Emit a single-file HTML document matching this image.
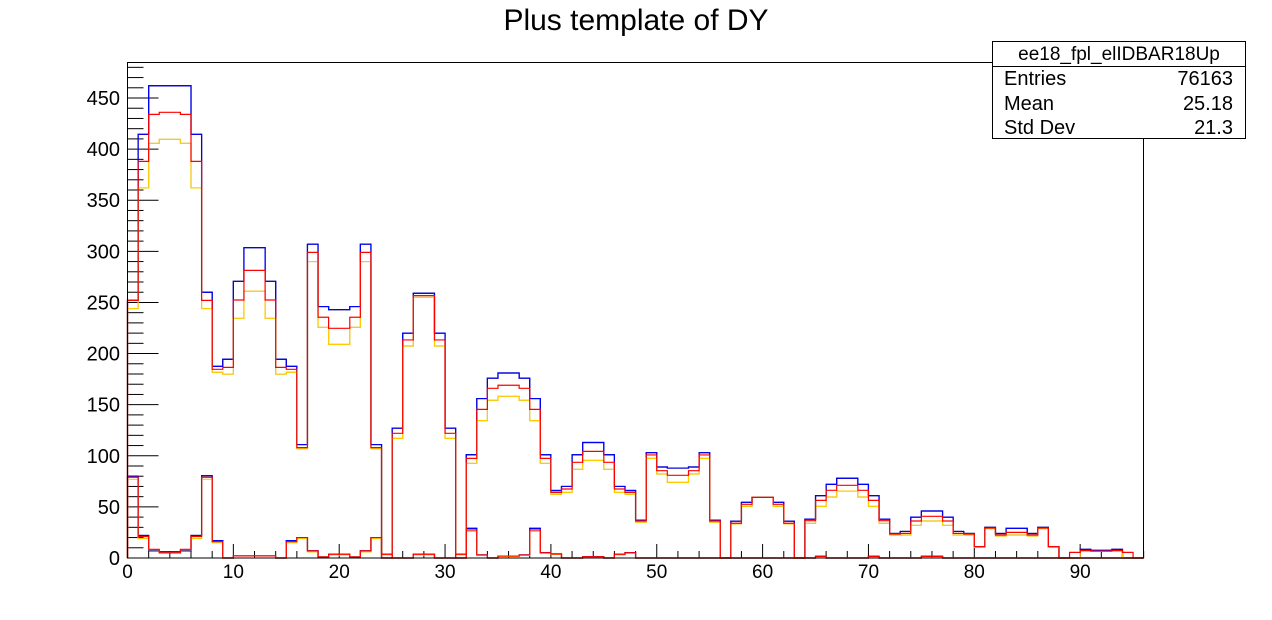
<!DOCTYPE html>
<html><head><meta charset="utf-8"><style>
html,body{margin:0;padding:0;background:#fff;}
svg{display:block;font-family:"Liberation Sans",Arial,sans-serif;}
</style></head><body>
<svg id="c" width="1272" height="620" viewBox="0 0 1272 620">
<text x="636" y="30" text-anchor="middle" font-size="30">Plus template of DY</text>
<g id="axes"></g>
<g id="series"></g>
<rect x="127.5" y="62.5" width="1016" height="495.5" fill="none" stroke="#000" stroke-width="1"/>
<g>
<rect x="992.5" y="41.5" width="253" height="97" fill="#fff" stroke="#000"/>
<line x1="992.5" y1="66.5" x2="1245.5" y2="66.5" stroke="#000"/>
<text x="1119" y="60" text-anchor="middle" font-size="19">ee18_fpl_elIDBAR18Up</text>
<text x="1004" y="85" font-size="20">Entries</text>
<text x="1233" y="85" text-anchor="end" font-size="20">76163</text>
<text x="1004" y="110" font-size="20">Mean</text>
<text x="1233" y="110" text-anchor="end" font-size="20">25.18</text>
<text x="1004" y="134" font-size="20">Std Dev</text>
<text x="1233" y="134" text-anchor="end" font-size="20">21.3</text>
</g>
</svg>
<script>
const xTicks = [0,10,20,30,40,50,60,70,80,90];
const yTicks = [0,50,100,150,200,250,300,350,400,450];
const bigBlue = [252,414.5,462,462,462,462,414.5,260,187.5,194.4,270.7,303.6,303.6,270.7,194.4,187.5,111,307,246,243,243,246,307,111,0,127,220,259,259,220,127,0,101,156,176,181,181,176,156,101,66,70,101,113,113,101,70,66,37,103,89,88,88,89,103,37,0,36,54.5,59.3,59.3,54.5,36,0,38,61,72,78,78,72,61,38,24,26,40,46,46,40,26,24,11,30,24,29,29,24,30,11,0,0,8.5,7.5,7.5,8.5,0,0];
const bigRed = [252,388,434,436,436,434,388,252,184.6,186.5,252.4,281.4,281.4,252.4,186.5,184.6,108,299,235.5,224.7,224.7,235.5,299,108,0,122,213.3,256.7,256.7,213.3,122,0,97.5,145.4,166,169,169,166,145.4,97.5,64.2,67.5,93.6,104.3,104.3,93.6,67.5,64.2,36.2,100.8,85.4,80.9,80.9,85.4,100.8,36.2,0,34,52.5,59.3,59.3,52.5,34,0,36.5,56.4,66.2,71.1,71.1,66.2,56.4,36.5,23.5,24.1,36.2,40.8,40.8,36.2,24.1,23.5,11.1,29.3,22.5,25.1,25.1,22.5,29.3,11.1,0,5.5,7.2,6.8,6.8,7.2,5.5,0];
const bigYellow = [244,362,405.7,409.6,409.6,405.7,362,244,181.7,179.8,234.5,261,261,234.5,179.8,181.7,107,290,225.7,209,209,225.7,290,107,0,117,207.4,255,255,207.4,117,0,92.6,134.4,154.3,158.2,158.2,154.3,134.4,92.6,62.3,64.2,86.7,95.5,95.5,86.7,64.2,62.3,34.9,97.5,82.2,74,74,82.2,97.5,34.9,0,33.3,50.5,59.3,59.3,50.5,33.3,0,33.9,50.5,59.7,65.5,65.5,59.7,50.5,33.9,22.5,22.5,32,36.2,36.2,32,22.5,22.5,10.4,28.7,21.5,22.5,22.5,21.5,28.7,10.4,0,0,7,6.5,6.5,7,0,0];
const smallBlue = [80,22,7,6,6,7,22,80.5,17,0,2,2,2,2,0,17,20,7,1,3.6,3.6,1,7,20,3.6,0,0,3.6,3.6,0,0,3.6,29,3,0,1.9,1.9,3,29,5.2,3.9,0,0,1.3,1.3,0,3.6,5.2,0,0,0,0,0,0,0,0,0,0,0,0,0,0,0,0,0,1.6,0,0,0,0,1.6,0,0,0,0,1.6,1.6,0,0,0,0,0,0,0,0,0,0,0,0,0,0,0,0,0,0,0];
const smallRed = [79,21,8.5,5,5,8.5,21,79,16,0,2,2,2,2,0,16,20,7,1,3.6,3.6,1,7,20,3.6,0,0,3.6,3.6,0,0,3.6,27.4,3,0,1.9,1.9,3,27.4,5.2,3.9,0,0,1.3,1.3,0,3.6,5.2,0,0,0,0,0,0,0,0,0,0,0,0,0,0,0,0,0,1.6,0,0,0,0,1.6,0,0,0,0,1.6,1.6,0,0,0,0,0,0,0,0,0,0,0,0,0,0,0,0,0,0,0];
const smallYellow = [77,19,8,5,5,8,19,77,15,0,2,2,2,2,0,15,19,6,1,3,3,1,6,19,3,0,0,3,3,0,0,3,26,2.5,0,1.5,1.5,2.5,26,4.5,3.5,0,0,1,1,0,3,4.5,0,0,0,0,0,0,0,0,0,0,0,0,0,0,0,0,0,1.2,0,0,0,0,1.2,0,0,0,0,1.2,1.2,0,0,0,0,0,0,0,0,0,0,0,0,0,0,0,0,0,0,0];

const NS='http://www.w3.org/2000/svg';
const X0=127.5, XS=10.585, Y0=558, YS=1.0222;
function xp(u){return X0+u*XS;}
function yp(v){return Y0-v*YS;}
function mk(t,a){const e=document.createElementNS(NS,t);for(const k in a)e.setAttribute(k,a[k]);return e;}
const axes=document.getElementById('axes');
for(let v=0;v<=480;v+=10){
  const major=v%50===0;
  const l=mk('line',{x1:X0,x2:X0+(major?31:16),y1:yp(v),y2:yp(v),stroke:'#000','stroke-width':1});
  
  
  axes.appendChild(l);
}
yTicks.forEach(v=>{
  const t=mk('text',{x:120,y:yp(v)+7,'text-anchor':'end','font-size':20});
  t.textContent=v;
  
  
  axes.appendChild(t);
});
for(let u=0;u<=96;u+=2){
  const major=u%10===0;
  const l=mk('line',{x1:xp(u),x2:xp(u),y1:Y0,y2:Y0-(major?14:7),stroke:'#000','stroke-width':1});
  
  
  axes.appendChild(l);
}
xTicks.forEach(u=>{
  const t=mk('text',{x:xp(u),y:578,'text-anchor':'middle','font-size':19});
  t.textContent=u;
  
  
  axes.appendChild(t);
});
const series=document.getElementById('series');
function hist(vals,color,name){
  let d='M'+xp(0)+','+yp(0);
  vals.forEach((v,i)=>{d+=' V'+yp(v).toFixed(2)+' H'+xp(i+1).toFixed(2);});
  d+=' V'+yp(0);
  const p=mk('path',{d:d,fill:'none',stroke:color,'stroke-width':1.2});
  
  
  series.appendChild(p);
}
hist(bigYellow,'#bbbbbb','gray-hist-main');
hist(bigBlue,'#000000','black-hist-main');
hist(smallBlue,'#000000','black-hist-secondary');
hist(bigBlue,'#0000ff','blue-hist-main');
hist(smallBlue,'#0000ff','blue-hist-secondary');
hist(bigYellow,'#ffcc00','yellow-hist-main');
hist(smallYellow,'#ffcc00','yellow-hist-secondary');
hist(bigRed,'#ff0000','red-hist-main');
hist(smallRed,'#ff0000','red-hist-secondary');
</script>
</body></html>
